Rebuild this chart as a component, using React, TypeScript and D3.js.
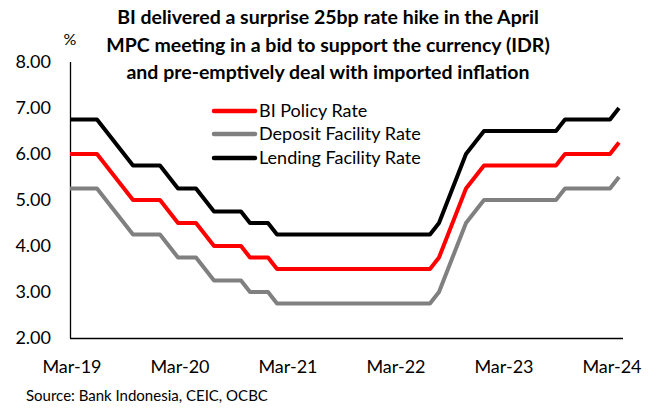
import React, { useEffect, useRef } from 'react';
import * as d3 from 'd3';

// monthly, Mar-19 .. Apr-24
const months: string[] = (() => {
  const names = ['Jan', 'Feb', 'Mar', 'Apr', 'May', 'Jun', 'Jul', 'Aug', 'Sep', 'Oct', 'Nov', 'Dec'];
  const out: string[] = [];
  for (let y = 2019; y <= 2024; y++) {
    for (let m = 0; m < 12; m++) {
      if (y === 2019 && m < 2) continue;
      if (y === 2024 && m > 3) break;
      out.push(`${names[m]}-${String(y).slice(2)}`);
    }
  }
  return out;
})();

const biRate = [
  6.0, 6.0, 6.0, 6.0, 5.75, 5.5, 5.25, 5.0, 5.0, 5.0,
  5.0, 4.75, 4.5, 4.5, 4.5, 4.25, 4.0, 4.0, 4.0, 4.0, 3.75, 3.75,
  3.75, 3.5, 3.5, 3.5, 3.5, 3.5, 3.5, 3.5, 3.5, 3.5, 3.5, 3.5,
  3.5, 3.5, 3.5, 3.5, 3.5, 3.5, 3.5, 3.75, 4.25, 4.75, 5.25, 5.5,
  5.75, 5.75, 5.75, 5.75, 5.75, 5.75, 5.75, 5.75, 5.75, 6.0, 6.0, 6.0,
  6.0, 6.0, 6.0, 6.25,
];
const depositRate = [
  5.25, 5.25, 5.25, 5.25, 5.0, 4.75, 4.5, 4.25, 4.25, 4.25,
  4.25, 4.0, 3.75, 3.75, 3.75, 3.5, 3.25, 3.25, 3.25, 3.25, 3.0, 3.0,
  3.0, 2.75, 2.75, 2.75, 2.75, 2.75, 2.75, 2.75, 2.75, 2.75, 2.75, 2.75,
  2.75, 2.75, 2.75, 2.75, 2.75, 2.75, 2.75, 3.0, 3.5, 4.0, 4.5, 4.75,
  5.0, 5.0, 5.0, 5.0, 5.0, 5.0, 5.0, 5.0, 5.0, 5.25, 5.25, 5.25,
  5.25, 5.25, 5.25, 5.5,
];
const lendingRate = [
  6.75, 6.75, 6.75, 6.75, 6.5, 6.25, 6.0, 5.75, 5.75, 5.75,
  5.75, 5.5, 5.25, 5.25, 5.25, 5.0, 4.75, 4.75, 4.75, 4.75, 4.5, 4.5,
  4.5, 4.25, 4.25, 4.25, 4.25, 4.25, 4.25, 4.25, 4.25, 4.25, 4.25, 4.25,
  4.25, 4.25, 4.25, 4.25, 4.25, 4.25, 4.25, 4.5, 5.0, 5.5, 6.0, 6.25,
  6.5, 6.5, 6.5, 6.5, 6.5, 6.5, 6.5, 6.5, 6.5, 6.75, 6.75, 6.75,
  6.75, 6.75, 6.75, 7.0,
];

const seriesNames = ['BI Policy Rate', 'Deposit Facility Rate', 'Lending Facility Rate'];
const seriesColors = ['#ff0000', '#808080', '#000000'];
const yTicks = [2, 3, 4, 5, 6, 7, 8];
const xTickLabels = ['Mar-19', 'Mar-20', 'Mar-21', 'Mar-22', 'Mar-23', 'Mar-24'];
const titleLines = [
  'BI delivered a surprise 25bp rate hike in the April',
  'MPC meeting in a bid to support the currency (IDR)',
  'and pre-emptively deal with imported inflation',
];

const FONT = 'Lato, "Open Sans", sans-serif';

const App: React.FC = () => {
  const svgRef = useRef<SVGSVGElement>(null);

  useEffect(() => {
    document.body.style.margin = '0';
    if (!svgRef.current) return;
    const width = 656;
    const height = 409;
    const svg = d3.select(svgRef.current);
    svg.selectAll('*').remove();
    svg.attr('width', width).attr('height', height);

    const x = d3.scalePoint<string>().domain(months).range([70, 619]);
    const y = d3.scaleLinear().domain([2, 8]).range([338, 62]);

    // title
    svg.append('text')
      .attr('x', 328)
      .attr('y', 24)
      .attr('text-anchor', 'middle')
      .style('font-family', FONT)
      .style('font-weight', '700')
      .style('font-size', '19.5px')
      .style('fill', '#000')
      .selectAll('tspan')
      .data(titleLines)
      .join('tspan')
      .attr('x', 328)
      .attr('dy', (_d, i) => (i === 0 ? 0 : 27.5))
      .text(d => d);

    // % unit
    svg.append('text')
      .attr('x', 70)
      .attr('y', 45)
      .attr('text-anchor', 'middle')
      .style('font-family', FONT)
      .style('font-size', '16px')
      .text('%');

    // axes lines
    svg.append('line')
      .attr('x1', 70.5).attr('x2', 70.5)
      .attr('y1', y(8)).attr('y2', y(2))
      .attr('stroke', '#000').attr('stroke-width', 1.3);
    svg.append('line')
      .attr('x1', 70).attr('x2', 623)
      .attr('y1', y(2) + 0.5).attr('y2', y(2) + 0.5)
      .attr('stroke', '#000').attr('stroke-width', 1.3);

    // y tick labels
    svg.append('g')
      .selectAll('text')
      .data(yTicks)
      .join('text')
      .attr('x', 51)
      .attr('y', d => y(d))
      .attr('dy', '0.36em')
      .attr('text-anchor', 'end')
      .style('font-family', FONT)
      .style('font-size', '18px')
      .text(d => d.toFixed(2));

    // x tick labels
    svg.append('g')
      .selectAll('text')
      .data(xTickLabels)
      .join('text')
      .attr('x', d => (x(d) as number) + 2)
      .attr('y', 373)
      .attr('text-anchor', 'middle')
      .style('font-family', FONT)
      .style('font-size', '18px')
      .text(d => d);

    // lines
    const seriesData = [biRate, depositRate, lendingRate];
    const line = d3.line<number>()
      .x((_d, i) => x(months[i]) as number)
      .y(d => y(d));
    // draw grey, red, then black on top
    [1, 0, 2].forEach(k => {
      svg.append('path')
        .datum(seriesData[k])
        .attr('d', line)
        .attr('fill', 'none')
        .attr('stroke', seriesColors[k])
        .attr('stroke-width', 4)
        .attr('stroke-linejoin', 'round');
    });

    // legend
    const legendY = [111, 134, 158];
    const lg = svg.append('g');
    seriesNames.forEach((name, i) => {
      lg.append('line')
        .attr('x1', 214).attr('x2', 255)
        .attr('y1', legendY[i]).attr('y2', legendY[i])
        .attr('stroke', seriesColors[i])
        .attr('stroke-width', 4.5)
        .attr('stroke-linecap', 'round');
      lg.append('text')
        .attr('x', 259)
        .attr('y', legendY[i])
        .attr('dy', '0.36em')
        .style('font-family', FONT)
        .style('font-size', '18px')
        .text(name);
    });

    // source
    svg.append('text')
      .attr('x', 26)
      .attr('y', 401)
      .style('font-family', FONT)
      .style('font-size', '15px')
      .text('Source: Bank Indonesia, CEIC, OCBC');
  }, []);

  return <svg ref={svgRef} style={{ display: 'block' }} />;
};

export default App;
